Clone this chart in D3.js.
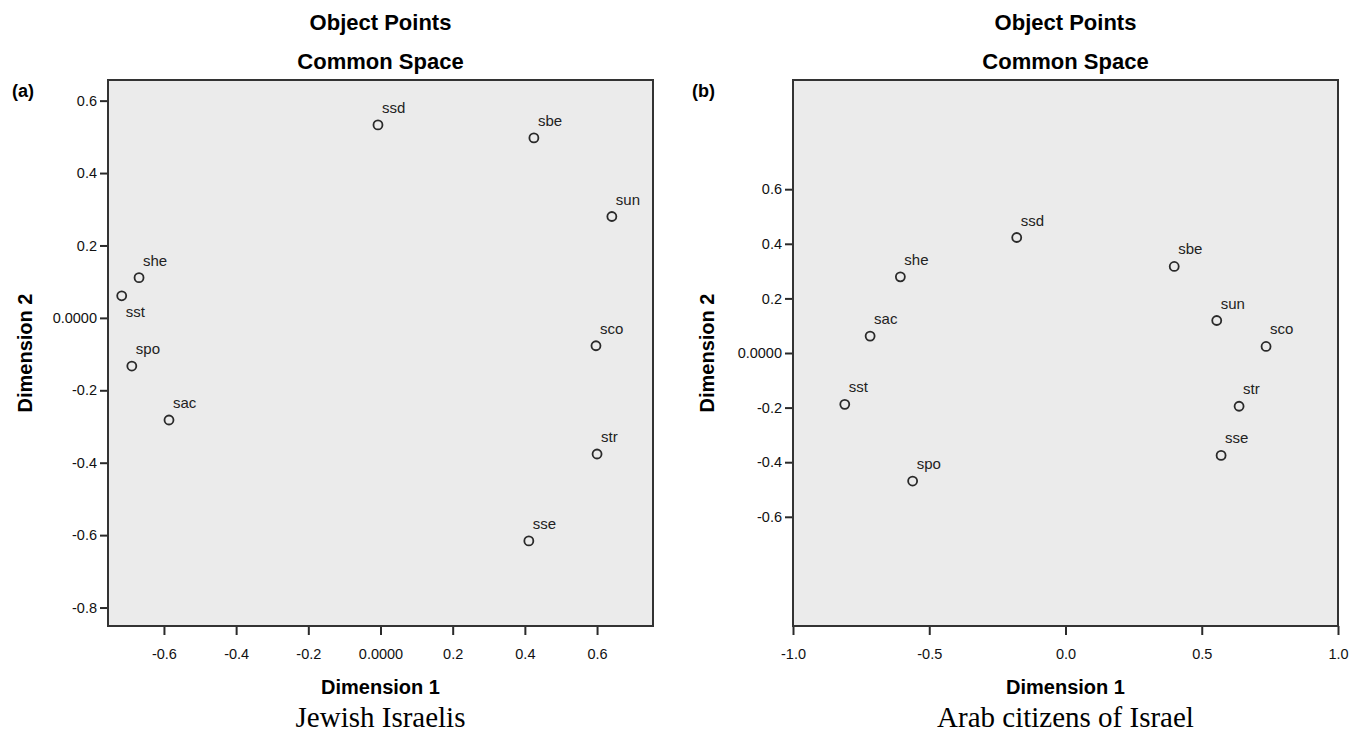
<!DOCTYPE html>
<html>
<head>
<meta charset="utf-8">
<script src="https://cdn.jsdelivr.net/npm/d3@7.9.0/dist/d3.min.js"></script>
<style>
  body { margin: 0; background: #fff; }
  svg text { font-family: "Liberation Sans", Arial, sans-serif; }
</style>
</head>
<body>
<svg id="chart" width="1363" height="735"></svg>
<script>
// object names (same order in both panels)
const names = ['ssd', 'sbe', 'sun', 'sco', 'str', 'sse', 'sac', 'spo', 'sst', 'she'];

// panel (a) Jewish Israelis - common space coordinates
const dimA1 = [-0.007, 0.425, 0.641, 0.597, 0.600, 0.411, -0.586, -0.689, -0.717, -0.669];
const dimA2 = [0.533, 0.497, 0.280, -0.077, -0.376, -0.616, -0.282, -0.133, 0.061, 0.111];

// panel (b) Arab citizens of Israel
const dimB1 = [-0.179, 0.399, 0.555, 0.736, 0.637, 0.571, -0.717, -0.561, -0.810, -0.606];
const dimB2 = [0.423, 0.317, 0.119, 0.024, -0.195, -0.375, 0.062, -0.469, -0.188, 0.279];

// axis ranges and ticks
const xDomainA = [-0.755, 0.755];
const yDomainA = [-0.851, 0.657];
const xTicksA = [-0.6, -0.4, -0.2, 0, 0.2, 0.4, 0.6];
const yTicksA = [0.6, 0.4, 0.2, 0, -0.2, -0.4, -0.6, -0.8];

const xDomainB = [-1, 1];
const yDomainB = [-1, 1];
const xTicksB = [-1, -0.5, 0, 0.5, 1];
const yTicksB = [0.6, 0.4, 0.2, 0, -0.2, -0.4, -0.6];

const svg = d3.select('#chart');

// SPSS style labels: hyphen minus, 0.0000 for zero on the dimension axes
const fmtDim = d => d === 0 ? '0.0000' : d.toFixed(1);
const fmtOne = d => d.toFixed(1);

function drawPanel(opt) {
    const { left, top, w, h } = opt;
    const g = svg.append('g');

    const x = d3.scaleLinear().domain(opt.xDomain).range([left, left + w]);
    const y = d3.scaleLinear().domain(opt.yDomain).range([top + h, top]);

    // plot background
    g.append('rect')
        .attr('x', left).attr('y', top)
        .attr('width', w).attr('height', h)
        .attr('fill', '#ebebeb');

    // axes
    const yAxis = g.append('g')
        .attr('transform', `translate(${left},0)`)
        .call(d3.axisLeft(y).tickValues(opt.yTicks).tickFormat(fmtDim).tickSize(8).tickPadding(3));
    const xAxis = g.append('g')
        .attr('transform', `translate(0,${top + h})`)
        .call(d3.axisBottom(x).tickValues(opt.xTicks).tickFormat(opt.xFmt).tickSize(9).tickPadding(14));

    [xAxis, yAxis].forEach(ax => {
        ax.select('.domain').remove();
        ax.selectAll('line').attr('stroke', '#2a2a2a').attr('stroke-width', 2);
        ax.selectAll('text')
            .attr('fill', '#111')
            .style('font-size', '14.5px');
    });

    // frame
    g.append('rect')
        .attr('x', left).attr('y', top)
        .attr('width', w).attr('height', h)
        .attr('fill', 'none')
        .attr('stroke', '#333')
        .attr('stroke-width', 2);

    const pts = names.map((n, i) => ({ name: n, d1: opt.d1[i], d2: opt.d2[i] }));

    g.selectAll('circle.pt')
        .data(pts)
        .join('circle')
        .attr('class', 'pt')
        .attr('cx', d => x(d.d1))
        .attr('cy', d => y(d.d2))
        .attr('r', 4.5)
        .attr('fill', 'none')
        .attr('stroke', '#2a2a2a')
        .attr('stroke-width', 1.8);

    g.selectAll('text.lbl')
        .data(pts)
        .join('text')
        .attr('class', 'lbl')
        .attr('x', d => x(d.d1) + 4)
        .attr('y', d => opt.below.includes(d.name) ? y(d.d2) + 21 : y(d.d2) - 12)
        .attr('fill', '#222')
        .style('font-size', '15px')
        .text(d => d.name);

    const cx = left + w / 2;

    // titles
    g.append('text')
        .attr('x', cx).attr('y', 30)
        .attr('text-anchor', 'middle')
        .style('font-size', '22px').style('font-weight', 'bold')
        .text('Object Points');
    g.append('text')
        .attr('x', cx).attr('y', 69)
        .attr('text-anchor', 'middle')
        .style('font-size', '22px').style('font-weight', 'bold')
        .text('Common Space');

    // panel tag
    g.append('text')
        .attr('x', opt.tagX).attr('y', 97)
        .style('font-size', '18px').style('font-weight', 'bold')
        .text(opt.tag);

    // axis titles
    g.append('text')
        .attr('x', cx).attr('y', 694)
        .attr('text-anchor', 'middle')
        .style('font-size', '20px').style('font-weight', 'bold')
        .text('Dimension 1');
    g.append('text')
        .attr('transform', `translate(${left - opt.yTitleOff},${top + h / 2}) rotate(-90)`)
        .attr('text-anchor', 'middle')
        .attr('dy', '0.35em')
        .style('font-size', '20px').style('font-weight', 'bold')
        .text('Dimension 2');

    // group caption
    g.append('text')
        .attr('x', cx).attr('y', 727)
        .attr('text-anchor', 'middle')
        .style('font-family', '"Liberation Serif", "Times New Roman", serif')
        .style('font-size', '29px')
        .text(opt.caption);
}

drawPanel({
    left: 108, top: 80, w: 545, h: 546,
    xDomain: xDomainA, yDomain: yDomainA,
    xTicks: xTicksA, yTicks: yTicksA, xFmt: fmtDim,
    d1: dimA1, d2: dimA2, below: ['sst'],
    tag: '(a)', tagX: 12, yTitleOff: 83,
    caption: 'Jewish Israelis'
});

drawPanel({
    left: 793, top: 80, w: 545, h: 546,
    xDomain: xDomainB, yDomain: yDomainB,
    xTicks: xTicksB, yTicks: yTicksB, xFmt: fmtOne,
    d1: dimB1, d2: dimB2, below: [],
    tag: '(b)', tagX: 692, yTitleOff: 86,
    caption: 'Arab citizens of Israel'
});
</script>
</body>
</html>
